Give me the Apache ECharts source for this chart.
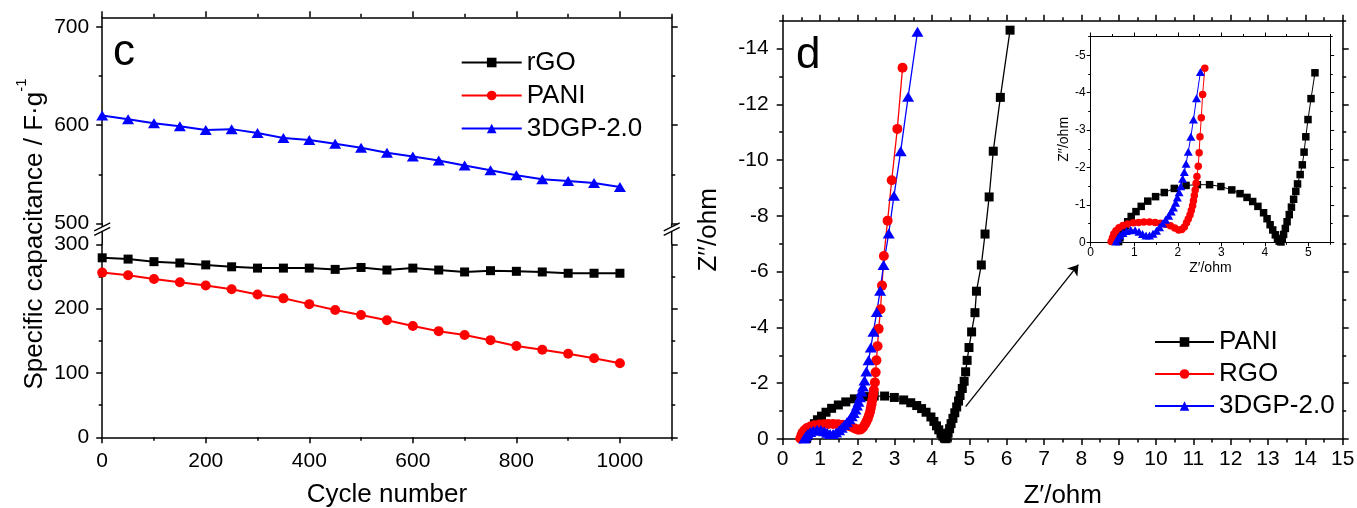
<!DOCTYPE html>
<html><head><meta charset="utf-8">
<script src="https://cdn.jsdelivr.net/npm/echarts@6/dist/echarts.min.js"></script>
<style>html,body{margin:0;padding:0;background:#fff}#c{width:1357px;height:508px}</style>
</head><body><div id="c"></div>
<script>
// ---------- data: panel c ----------
const cycles = [0,50,100,150,200,250,300,350,400,450,500,550,600,650,700,750,800,850,900,950,1000];
const capRGO  = [279,277,273,271,268,265,263,263,263,261,264,260,263,260,257,259,258,257,255,255,255];
const capPANI = [256,252,246,241,236,230,222,216,207,198,190,182,173,165,159,151,142,136,130,123,115];
const cap3DGP = [610,606,602,599,595,596,592,587,585,581,577,572,568,564,559,554,549,545,543,541,537];
const legendC = ['rGO','PANI','3DGP-2.0'];
// tick values panel c
const cXMajor = [0,200,400,600,800,1000];
const cXMinor = [100,300,500,700,900,1100];
const cTopMajor = [500,600,700];
const cTopMinor = [550,650];
const cBotMajor = [0,100,200,300];
const cBotMinor = [50,150,250];

// ---------- data: panel d (Nyquist) ----------
const paniRe = [0.64,0.67,0.71,0.76,0.80,0.85,0.93,1.04,1.16,1.31,1.49,1.69,1.92,2.19,2.45,2.73,2.99,3.24,3.43,3.59,3.72,3.84,3.97,4.05,4.12,4.18,4.24,4.29,4.33,4.37,4.40,4.43,4.47,4.51,4.56,4.61,4.66,4.71,4.75,4.81,4.86,4.90,4.94,4.99,5.06,5.15,5.19,5.32,5.42,5.53,5.64,5.83,6.09];
const paniIm = [-0.02,-0.12,-0.24,-0.35,-0.44,-0.55,-0.69,-0.82,-0.96,-1.10,-1.22,-1.33,-1.44,-1.52,-1.54,-1.54,-1.49,-1.40,-1.30,-1.20,-1.09,-0.96,-0.79,-0.63,-0.47,-0.33,-0.20,-0.10,-0.03,-0.01,-0.09,-0.21,-0.37,-0.55,-0.74,-0.94,-1.15,-1.36,-1.56,-1.81,-2.07,-2.41,-2.82,-3.28,-3.84,-4.53,-5.30,-6.24,-7.35,-8.68,-10.32,-12.25,-14.66];
const rgoRe = [0.47,0.50,0.53,0.58,0.65,0.74,0.85,0.98,1.10,1.22,1.35,1.48,1.60,1.72,1.83,1.93,2.02,2.09,2.15,2.20,2.24,2.28,2.31,2.34,2.36,2.38,2.40,2.42,2.44,2.47,2.49,2.51,2.54,2.57,2.62,2.66,2.71,2.81,2.92,3.07,3.21];
const rgoIm = [-0.02,-0.12,-0.22,-0.31,-0.39,-0.45,-0.49,-0.52,-0.53,-0.54,-0.54,-0.53,-0.51,-0.48,-0.44,-0.38,-0.33,-0.34,-0.41,-0.52,-0.62,-0.73,-0.85,-0.98,-1.11,-1.25,-1.40,-1.58,-1.76,-2.03,-2.39,-2.82,-3.33,-3.95,-4.65,-5.50,-6.56,-7.83,-9.28,-11.12,-13.31];
const g3dRe = [0.58,0.62,0.67,0.74,0.82,0.92,1.02,1.11,1.19,1.27,1.35,1.43,1.51,1.58,1.65,1.72,1.79,1.85,1.90,1.95,1.99,2.03,2.07,2.11,2.15,2.19,2.24,2.30,2.36,2.43,2.52,2.61,2.70,2.84,2.98,3.16,3.36,3.61];
const g3dIm = [-0.02,-0.10,-0.18,-0.25,-0.30,-0.33,-0.32,-0.28,-0.22,-0.18,-0.18,-0.23,-0.31,-0.40,-0.50,-0.60,-0.71,-0.82,-0.93,-1.06,-1.20,-1.34,-1.50,-1.70,-1.88,-2.10,-2.42,-2.82,-3.28,-3.85,-4.55,-5.32,-6.24,-7.37,-8.72,-10.32,-12.27,-14.60];
const legendD = ['PANI','RGO','3DGP-2.0'];
const insetLimit = -4.8; // inset shows the low-frequency part only
const dXMajor = [0,1,2,3,4,5,6,7,8,9,10,11,12,13,14,15];
const dXMinor = [0.5,1.5,2.5,3.5,4.5,5.5,6.5,7.5,8.5,9.5,10.5,11.5,12.5,13.5,14.5];
const dYMajor = [-14,-12,-10,-8,-6,-4,-2,0];
const dYMinor = [-15,-13,-11,-9,-7,-5,-3,-1];
const iXMajor = [0,1,2,3,4,5];
const iXMinor = [0.5,1.5,2.5,3.5,4.5,5.5];
const iYMajor = [-5,-4,-3,-2,-1,0];
const iYMinor = [-5.5,-4.5,-3.5,-2.5,-1.5,-0.5];

// ---------- layout ----------
const FONT = '"Liberation Sans", Arial, sans-serif';
const G = [
  {left:102.2, top:17.3, width:569.5, height:206},
  {left:102.2, top:244.3, width:569.5, height:193},
  {left:782.7, top:20.7, width:560, height:418.3},
  {left:1090.7, top:36.5, width:239.5, height:205.8}
];

const xAxes = [], yAxes = [];
function addPair(arr, c) {
  const idx = arr.length;
  const base = {type:'value', gridIndex:c.grid, min:c.min, max:c.max, position:c.pos,
    inverse:!!c.inverse, splitLine:{show:false}, silent:true, nameMoveOverlap:false};
  arr.push(Object.assign({}, base, {
    axisLine:{show:true, onZero:false, lineStyle:{color:'#000', width:c.lw}},
    axisTick:{show:true, inside:false, length:c.tl, customValues:c.major, lineStyle:{color:'#000', width:c.lw}},
    axisLabel:{show:!!c.labels, customValues:c.major, margin:c.margin||8, fontSize:c.fs||12, fontFamily:FONT, color:'#000',
      formatter:v => String(v)},
    name:c.name||'', nameLocation:'middle', nameGap:c.nameGap||0,
    nameTextStyle:{fontSize:c.nfs||12, fontFamily:FONT, color:'#000'}
  }));
  arr.push(Object.assign({}, base, {
    axisLine:{show:false, onZero:false},
    axisTick:{show:true, inside:false, length:c.ml, customValues:c.minor, lineStyle:{color:'#000', width:c.lw}},
    axisLabel:{show:false}
  }));
  return idx;
}
const TF = 21;
// panel c top segment
const x0 = addPair(xAxes, {grid:0, min:0, max:1100, pos:'top', major:cXMajor, minor:cXMinor, lw:1.5, tl:6, ml:3.5});
const y0 = addPair(yAxes, {grid:0, min:500, max:710, pos:'left', major:cTopMajor, minor:cTopMinor, lw:1.5, tl:6, ml:3.5, labels:true, fs:TF, margin:13});
addPair(yAxes, {grid:0, min:500, max:710, pos:'right', major:cTopMajor, minor:cTopMinor, lw:1.5, tl:6, ml:3.5});
// panel c bottom segment
const x1 = addPair(xAxes, {grid:1, min:0, max:1100, pos:'bottom', major:cXMajor, minor:cXMinor, lw:1.5, tl:6, ml:3.5, labels:true, fs:TF, margin:13, name:'Cycle number', nfs:26, nameGap:45});
const y1 = addPair(yAxes, {grid:1, min:0, max:300, pos:'left', major:cBotMajor, minor:cBotMinor, lw:1.5, tl:6, ml:3.5, labels:true, fs:TF, margin:13});
addPair(yAxes, {grid:1, min:0, max:300, pos:'right', major:cBotMajor, minor:cBotMinor, lw:1.5, tl:6, ml:3.5});
// panel d main
const x2 = addPair(xAxes, {grid:2, min:0, max:15, pos:'bottom', major:dXMajor, minor:dXMinor, lw:1.5, tl:6, ml:3.5, labels:true, fs:TF, margin:10, name:'Z\u2032/ohm', nfs:26, nameGap:44});
addPair(xAxes, {grid:2, min:0, max:15, pos:'top', major:dXMajor, minor:dXMinor, lw:1.5, tl:6, ml:3.5});
const y2 = addPair(yAxes, {grid:2, min:-15, max:0, inverse:true, pos:'left', major:dYMajor, minor:dYMinor, lw:1.5, tl:6, ml:3.5, labels:true, fs:TF, margin:14, name:'Z\u2032\u2032/ohm', nfs:26, nameGap:61});
addPair(yAxes, {grid:2, min:-15, max:0, inverse:true, pos:'right', major:dYMajor, minor:dYMinor, lw:1.5, tl:6, ml:3.5});
// inset
const x3 = addPair(xAxes, {grid:3, min:0, max:5.5, pos:'bottom', major:iXMajor, minor:iXMinor, lw:1, tl:4, ml:2.5, labels:true, fs:12, margin:4, name:'Z\u2032/ohm', nfs:14, nameGap:19});
addPair(xAxes, {grid:3, min:0, max:5.5, pos:'top', major:iXMajor, minor:iXMinor, lw:1, tl:4, ml:2.5});
const y3 = addPair(yAxes, {grid:3, min:-5.5, max:0, inverse:true, pos:'left', major:iYMajor, minor:iYMinor, lw:1, tl:4, ml:2.5, labels:true, fs:12, margin:5, name:'Z\u2032\u2032/ohm', nfs:14, nameGap:20});
addPair(yAxes, {grid:3, min:-5.5, max:0, inverse:true, pos:'right', major:iYMajor, minor:iYMinor, lw:1, tl:4, ml:2.5});

function zip(a, b) { return a.map((v, i) => [v, b[i]]); }
function lineSeries(name, xi, yi, data, color, symbol, size, lw) {
  return {type:'line', name, xAxisIndex:xi, yAxisIndex:yi, data, symbol, symbolSize:size,
    showSymbol:true, showAllSymbol:true, animation:false, silent:true,
    lineStyle:{color, width:lw}, itemStyle:{color, borderWidth:0}, emphasis:{disabled:true}};
}
const series = [
  lineSeries(legendC[0], x1, y1, zip(cycles, capRGO), '#000', 'rect', 9, 2),
  lineSeries(legendC[1], x1, y1, zip(cycles, capPANI), '#ff0000', 'circle', 10, 2),
  lineSeries(legendC[2], x0, y0, zip(cycles, cap3DGP), '#0000ff', 'triangle', [12,10], 2),
];
const dNames = legendD.map(n => 'd:' + n);
const dSets = [
  [zip(paniRe, paniIm), '#000', 'rect', 9, 7.5],
  [zip(rgoRe, rgoIm), '#ff0000', 'circle', 10, 7.5],
  [zip(g3dRe, g3dIm), '#0000ff', 'triangle', [12,10], [9,8]]
];
dSets.forEach((s, i) => {
  const main = lineSeries(dNames[i], x2, y2, s[0], s[1], s[2], s[3], 1.3);
  if (i === 0) {
    main.markLine = {silent:true, animation:false, symbol:['none','arrow'], symbolSize:10,
      label:{show:false}, emphasis:{disabled:true},
      lineStyle:{color:'#000', type:'solid', width:1.3},
      data:[[{coord:[4.9,-1.16]},{coord:[7.92,-6.25]}]]};
  }
  series.push(main);
});
dSets.forEach((s, i) => {
  series.push(lineSeries(dNames[i], x3, y3, s[0].filter(p => p[1] >= insetLimit), s[1], s[2], s[4], 1));
});

// break marks on the left panel's y axis
const gapTop = G[0].top + G[0].height, gapBot = G[1].top;
const graphics = [];
[G[0].left, G[0].left + G[0].width].forEach(X => {
  const s1 = gapTop + 3.5, s2 = gapTop + 8;
  graphics.push({type:'line', shape:{x1:X, y1:gapTop, x2:X, y2:s1}, style:{stroke:'#000', lineWidth:1.5}, silent:true});
  graphics.push({type:'line', shape:{x1:X, y1:s2, x2:X, y2:gapBot}, style:{stroke:'#000', lineWidth:1.5}, silent:true});
  [s1, s2].forEach(yc => graphics.push({type:'line', shape:{x1:X-8, y1:yc+4, x2:X+8, y2:yc-4}, style:{stroke:'#000', lineWidth:1.3}, silent:true}));
});
graphics.push({type:'text', x:31, y:234, rotation:Math.PI/2, silent:true,
  style:{text:'{n|Specific capacitance / F\u00b7g}{s|-1}', align:'center', verticalAlign:'middle', fill:'#000',
    rich:{n:{fontSize:26, fontFamily:FONT, lineHeight:34, verticalAlign:'bottom', fill:'#000'},
          s:{fontSize:15, fontFamily:FONT, lineHeight:34, verticalAlign:'top', fill:'#000'}}}});
graphics.push({type:'text', x:113, y:75, silent:true, style:{text:'c', fontSize:44, fontFamily:FONT, fill:'#000', align:'left', verticalAlign:'bottom'}});
graphics.push({type:'text', x:796, y:78, silent:true, style:{text:'d', fontSize:44, fontFamily:FONT, fill:'#000', align:'left', verticalAlign:'bottom'}});

const chart = echarts.init(document.getElementById('c'), null, {renderer:'canvas'});
chart.setOption({
  animation:false,
  backgroundColor:'#fff',
  textStyle:{fontFamily:FONT, color:'#000'},
  grid:G.map(g => Object.assign({containLabel:false, outerBoundsMode:'none'}, g)),
  xAxis:xAxes, yAxis:yAxes,
  legend:[
    {data:legendC, orient:'vertical', left:455.7, top:44.5, itemWidth:60, itemHeight:12, itemGap:7,
     selectedMode:false, textStyle:{fontSize:26, fontFamily:FONT, color:'#000'}},
    {data:dNames, orient:'vertical', left:1149, top:324, itemWidth:59, itemHeight:12, itemGap:6,
     selectedMode:false, formatter:n => n.slice(2), textStyle:{fontSize:26, fontFamily:FONT, color:'#000'}}
  ],
  series, graphic:graphics
});
</script></body></html>
